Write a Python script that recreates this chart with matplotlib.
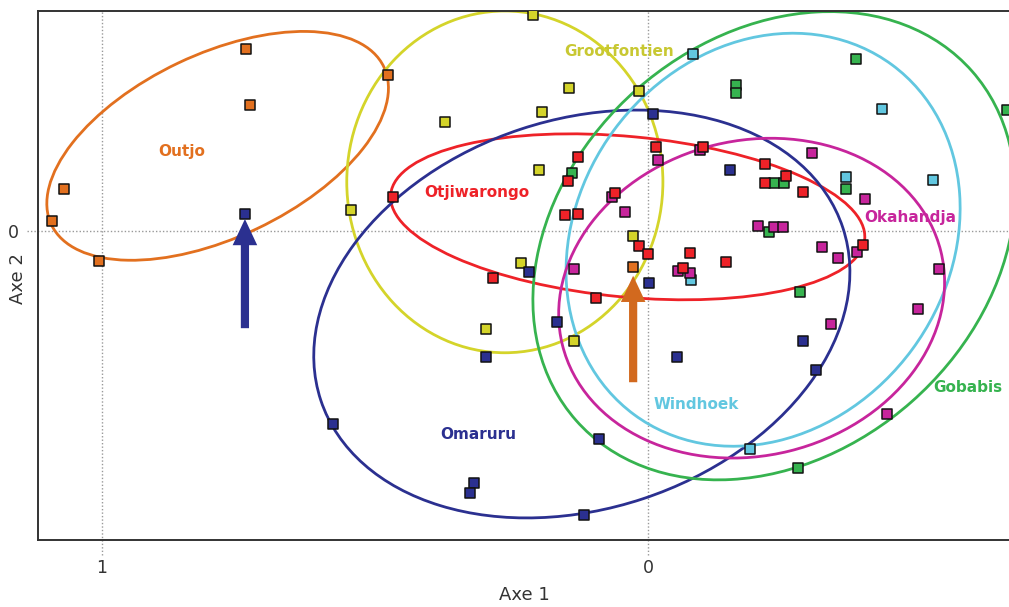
import matplotlib
matplotlib.use("Agg")
import matplotlib.pyplot as plt
from matplotlib.patches import Ellipse, FancyArrow
import matplotlib.transforms as mtransforms

# ---------------- data ----------------
groups = ["Outjo", "Grootfontien", "Otjiwarongo", "Omaruru", "Gobabis", "Windhoek", "Okahandja"]
colors = {"Outjo": "#e2701f", "Grootfontien": "#d4d42a", "Otjiwarongo": "#ee2228",
          "Omaruru": "#2b3090", "Gobabis": "#36b34f", "Windhoek": "#62c7e0",
          "Okahandja": "#c7259c"}
text_colors = {"Outjo": "#e2701f", "Grootfontien": "#c8c832", "Otjiwarongo": "#ee2228",
               "Omaruru": "#2b3090", "Gobabis": "#36b34f", "Windhoek": "#62c7e0",
               "Okahandja": "#c7259c"}

outjo_x = [0.736, 0.729, 1.070, 1.092, 1.005, 0.476, 0.027]
outjo_y = [0.333, 0.231, 0.077, 0.018, -0.055, 0.286, -0.066]

groot_x = [0.211, 0.544, 0.145, 0.194, 0.372, 0.200, 0.016, 0.027, 0.233, 0.297, 0.136]
groot_y = [0.396, 0.038, 0.262, 0.218, 0.200, 0.112, 0.256, -0.009, -0.059, -0.179, -0.201]

otji_x = [0.467, -0.015, -0.101, 0.128, 0.147, 0.060, 0.152, 0.128, 0.016, 0.000,
          -0.077, -0.143, 0.284, -0.064, 0.095, -0.214, -0.253, -0.214, -0.284, -0.394]
otji_y = [0.062, 0.154, 0.154, 0.136, 0.092, 0.070, 0.029, 0.031, -0.027, -0.042,
          -0.040, -0.057, -0.086, -0.068, -0.123, 0.123, 0.101, 0.088, 0.071, -0.026]

omar_x = [0.738, -0.009, 0.218, -0.002, -0.150, 0.167, 0.297, 0.090, 0.577, 0.319,
          0.326, 0.117, -0.053, -0.284, -0.308]
omar_y = [0.031, 0.214, -0.075, -0.095, 0.112, -0.167, -0.231, -0.381, -0.353, -0.462,
          -0.480, -0.520, -0.231, -0.201, -0.255]

gob_x = [0.139, -0.381, -0.161, -0.161, -0.658, -0.231, -0.249, -0.363, -0.222, -0.278, -0.275]
gob_y = [0.106, 0.315, 0.267, 0.253, 0.222, 0.088, 0.088, 0.077, -0.002, -0.112, -0.434]

wind_x = [-0.082, -0.429, -0.363, -0.522, -0.079, -0.187]
wind_y = [0.324, 0.223, 0.099, 0.093, -0.090, -0.399]

okah_x = [-0.018, -0.095, 0.066, 0.042, 0.136, -0.055, -0.077, -0.300, -0.397, -0.201,
          -0.231, -0.247, -0.319, -0.348, -0.383, -0.533, -0.495, -0.335, -0.438]
okah_y = [0.130, 0.148, 0.062, 0.035, -0.070, -0.073, -0.077, 0.143, 0.059, 0.009,
          0.007, 0.007, -0.029, -0.049, -0.038, -0.070, -0.143, -0.170, -0.335]

points = {"Outjo": (outjo_x, outjo_y), "Grootfontien": (groot_x, groot_y),
          "Otjiwarongo": (otji_x, otji_y), "Omaruru": (omar_x, omar_y),
          "Gobabis": (gob_x, gob_y), "Windhoek": (wind_x, wind_y),
          "Okahandja": (okah_x, okah_y)}

# ellipse parameters: centre x, centre y, width, height, angle (deg)
ell_cx = [0.788, 0.262, 0.037, 0.121, -0.231, -0.211, -0.190]
ell_cy = [0.156, 0.090, 0.026, -0.152, -0.027, -0.016, -0.123]
ell_w = [0.674, 0.579, 0.872, 1.007, 0.967, 0.796, 0.714]
ell_h = [0.336, 0.626, 0.294, 0.713, 0.762, 0.678, 0.577]
ell_ang = [-25.4, 0.0, 5.4, -18.3, -41.4, -53.6, -13.9]

label_x = [0.853, 0.053, 0.313, 0.310, -0.586, -0.088, -0.480]
label_y = [0.145, 0.328, 0.070, -0.372, -0.286, -0.317, 0.024]

# arrows: x, y start, y end
arrow_x = [0.738, 0.027]
arrow_y0 = [-0.178, -0.277]
arrow_y1 = [0.022, -0.082]
arrow_col = ["#2b3090", "#d2691e"]

# ---------------- figure ----------------
W, H = 1009, 607
fig = plt.figure(figsize=(W / 100, H / 100), dpi=100)
ax = fig.add_axes([38 / W, (H - 540) / H, 991 / W, 529 / H])
ax.set_xlim(1.117, -0.698)
ax.set_ylim(-0.566, 0.403)

for s in ["left", "bottom", "top"]:
    ax.spines[s].set_color("#333333")
    ax.spines[s].set_linewidth(1.4)
ax.spines["right"].set_visible(False)

# dotted reference lines (extend a little outside the frame)
tx = mtransforms.blended_transform_factory(ax.transData, ax.transAxes)
ty = mtransforms.blended_transform_factory(ax.transAxes, ax.transData)
for xv in [1, 0]:
    ax.plot([xv, xv], [-0.028, 1.0], transform=tx, color="#999999", lw=1.0,
            ls=(0, (1, 1.5)), clip_on=False, zorder=1)
ax.plot([-0.011, 1.0], [0, 0], transform=ty, color="#999999", lw=1.0,
        ls=(0, (1, 1.5)), clip_on=False, zorder=1)

ax.set_xticks([1, 0])
ax.set_xticklabels(["1", "0"])
ax.set_yticks([0])
ax.set_yticklabels(["0"])
ax.tick_params(length=0, labelsize=12.5, colors="#333333")
ax.tick_params(axis="x", pad=14)
ax.tick_params(axis="y", pad=14)
ax.set_xlabel("Axe 1", fontsize=13, color="#333333", va="center")
ax.xaxis.set_label_coords(0.491, -0.104)
ax.set_ylabel("Axe 2", fontsize=13, color="#333333", va="center")
ax.yaxis.set_label_coords(-0.020, 0.495)

# ellipses
for i, g in enumerate(groups):
    e = Ellipse((ell_cx[i], ell_cy[i]), ell_w[i], ell_h[i], angle=ell_ang[i],
                fill=False, edgecolor=colors[g], lw=2.0, zorder=2)
    ax.add_patch(e)

# points
for g in ["Outjo", "Grootfontien", "Omaruru", "Gobabis", "Windhoek", "Okahandja", "Otjiwarongo"]:
    xs, ys = points[g]
    ax.scatter(xs, ys, marker="s", s=48, facecolor=colors[g], edgecolor="#111111",
               linewidth=1.1, zorder=4)

# labels
for i, g in enumerate(groups):
    ax.text(label_x[i], label_y[i], g, color=text_colors[g], fontsize=11,
            fontweight="bold", ha="center", va="center", zorder=5)

# arrows
for i in range(2):
    ax.add_patch(FancyArrow(arrow_x[i], arrow_y0[i], 0, arrow_y1[i] - arrow_y0[i],
                            width=0.015, head_width=0.045, head_length=0.048,
                            length_includes_head=True, color=arrow_col[i], lw=0,
                            zorder=6))

fig.savefig("out.png", dpi=100)
